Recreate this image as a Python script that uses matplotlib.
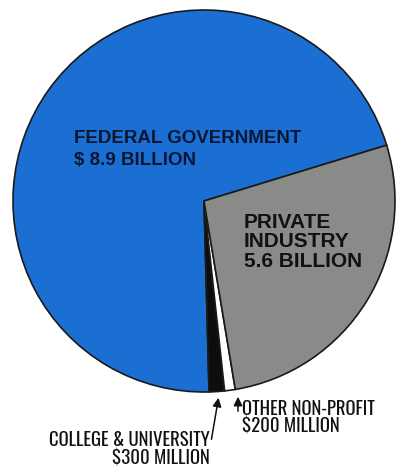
import matplotlib.pyplot as plt

# shares (percent of the circle), counterclockwise from the blue/grey edge
sources = ["Federal Government", "College & University", "Other Non-Profit", "Private Industry"]
shares = [70.7, 1.3, 0.9, 27.1]
colors = ["#1b6fd2", "#0d0d0d", "#ffffff", "#888b87"]

W, H = 404, 471
CENTER = (204, H - 201)
RADIUS = 191

bold = ["Liberation Sans", "DejaVu Sans"]
narrow = ["Oswald", "Roboto Condensed", "DejaVu Sans"]

fig = plt.figure(figsize=(W / 100, H / 100), dpi=100)
ax = fig.add_axes([0, 0, 1, 1])
ax.pie(shares, colors=colors, startangle=17, counterclock=True,
       center=CENTER, radius=RADIUS,
       wedgeprops=dict(edgecolor="#1a1a1a", linewidth=1.2))
ax.set_xlim(0, W)
ax.set_ylim(0, H)
ax.set_aspect("equal")
ax.axis("off")

ax.text(74, H - 130, "FEDERAL GOVERNMENT\n$ 8.9 BILLION", ha="left", va="top",
        fontsize=13.5, fontweight="bold", color="#0b1633", linespacing=1.35,
        family=bold)
ax.text(244, H - 213, "PRIVATE\nINDUSTRY\n5.6 BILLION", ha="left", va="top",
        fontsize=15, fontweight="bold", color="#111111", linespacing=1.02,
        family=bold)

ax.text(210, H - 431, "COLLEGE & UNIVERSITY\n$300 MILLION", ha="right", va="top",
        fontsize=13.5, color="#111111", linespacing=1.0, multialignment="right",
        family=narrow)
ax.text(242, H - 400, "OTHER NON-PROFIT\n$200 MILLION", ha="left", va="top",
        fontsize=13.5, color="#111111", linespacing=1.0,
        family=narrow)

ax.annotate("", xy=(219, H - 395), xytext=(211, H - 442),
            arrowprops=dict(arrowstyle="-|>", color="#111111", lw=1.1,
                            mutation_scale=13))
ax.annotate("", xy=(238, H - 394), xytext=(238, H - 414),
            arrowprops=dict(arrowstyle="-|>", color="#111111", lw=1.1,
                            mutation_scale=13))

fig.savefig("out.png", dpi=100)
